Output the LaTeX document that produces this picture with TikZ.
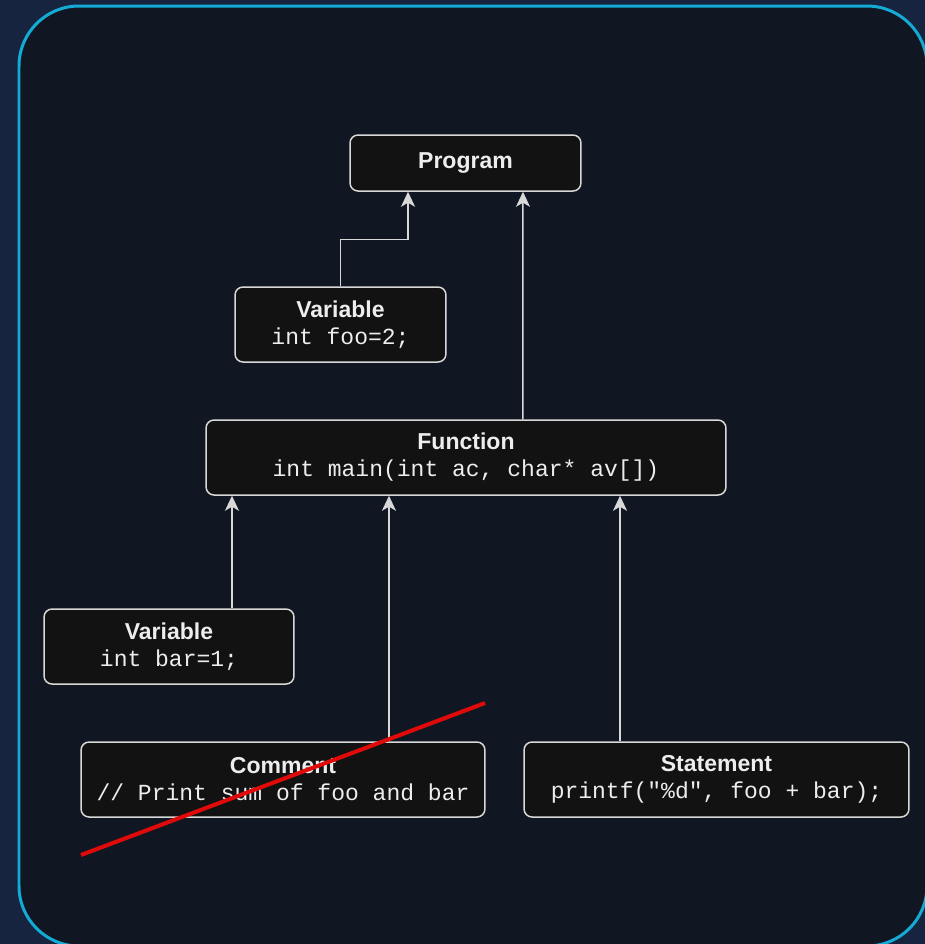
\documentclass[tikz,border=0pt]{standalone}
\usepackage{fontspec}
\setmainfont{Liberation Sans}
\setmonofont{Liberation Mono}
\usepackage{tikz}
\usetikzlibrary{arrows.meta, positioning, calc}
\usepackage{xcolor}
\definecolor{outerbg}{HTML}{17243F}
\definecolor{innerbg}{HTML}{111722}
\definecolor{frame}{HTML}{14AAD6}
\definecolor{boxfill}{HTML}{121212}
\definecolor{boxline}{HTML}{D8D8D8}
\definecolor{txt}{HTML}{EDEDED}
\definecolor{strikered}{HTML}{E00A0A}

\begin{document}
\begin{tikzpicture}[
  x=0.02cm, y=-0.02cm,
  astnode/.style={rectangle, rounded corners=0.16cm, draw=boxline, fill=boxfill,
                  line width=0.03cm, minimum height=1.5cm, align=center,
                  text=txt, font=\fontsize{13.1}{15.4}\selectfont, inner sep=0pt},
  arr/.style={-{Stealth[length=0.3cm, width=0.28cm, inset=0.08cm]}, draw=boxline, line width=0.03cm},
  strike/.style={draw=strikered, line width=0.08cm}
]
\useasboundingbox (0,0) rectangle (925,944);
\fill[outerbg] (0,0) rectangle (925,944);
\draw[frame, fill=innerbg, line width=0.06cm, rounded corners=1.2cm] (19,6) rectangle (927,946);

\node[astnode, minimum width=4.62cm, minimum height=1.12cm] (prog) at (465.5,163) {\textbf{Program}};
\node[astnode, minimum width=4.22cm] (vfoo) at (340.5,324.5) {\textbf{Variable}\\\texttt{int foo=2;}};
\node[astnode, minimum width=10.4cm] (func) at (466,457.5) {\textbf{Function}\\\texttt{int main(int ac, char* av[])}};
\node[astnode, minimum width=5.0cm] (vbar) at (169,646.5) {\textbf{Variable}\\\texttt{int bar=1;}};
\node[astnode, minimum width=8.08cm] (cmt) at (283,779.5) {\textbf{Comment}\\\texttt{// Print sum of foo and bar}};
\node[astnode, minimum width=7.7cm] (stmt) at (716.5,779.5) {\textbf{Statement}\\\texttt{printf("\%d", foo + bar);}};

\draw[arr] (vfoo.north) -- ++(0,-47) -| ([xshift=-1.15cm]prog.south);
\draw[arr] ([xshift=1.14cm]func.north) -- ([xshift=1.15cm]prog.south);
\draw[arr] ([xshift=1.26cm]vbar.north) -- ([xshift=1.26cm]vbar.north |- func.south);
\draw[arr] ([xshift=2.12cm]cmt.north) -- ([xshift=2.12cm]cmt.north |- func.south);
\draw[arr] ([xshift=-1.93cm]stmt.north) -- ([xshift=-1.93cm]stmt.north |- func.south);

% comment is crossed out
\draw[strike] (81,855) -- (485,703);
\end{tikzpicture}
\end{document}
